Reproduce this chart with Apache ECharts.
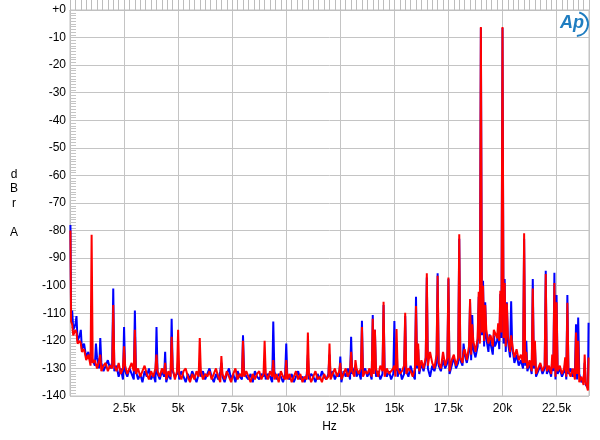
<!DOCTYPE html>
<html><head><meta charset="utf-8">
<script src="https://cdn.jsdelivr.net/npm/echarts@6/dist/echarts.min.js"></script>
<style>html,body{margin:0;padding:0;background:#fff}#c{width:600px;height:440px}</style>
</head><body><div id="c"></div>
<script>
// X tick labels (Hz)
const xTicks = [2500, 5000, 7500, 10000, 12500, 15000, 17500, 20000, 22500];
const xTickLabels = ['2.5k', '5k', '7.5k', '10k', '12.5k', '15k', '17.5k', '20k', '22.5k'];
// Y tick labels (dBr A)
const yTicks = [0, -10, -20, -30, -40, -50, -60, -70, -80, -90, -100, -110, -120, -130, -140];
const yTickLabels = ['+0', '-10', '-20', '-30', '-40', '-50', '-60', '-70', '-80', '-90', '-100', '-110', '-120', '-130', '-140'];

// Noise floor, read every 100 Hz (50, 150, ... 23950 Hz)
const blueFloor = [
  -110, -116, -114, -120, -118, -123, -121, -126, -124, -128,
  -127, -129, -126, -130, -128, -131, -129, -127, -130, -128,
  -131, -129, -133, -130, -134, -131, -133, -130, -132, -134,
  -131, -134, -132, -135, -131, -133, -130, -134, -132, -135,
  -132, -134, -131, -133, -135, -132, -134, -131, -133, -132,
  -134, -131, -133, -135, -132, -134, -131, -133, -135, -132,
  -133, -131, -134, -132, -130, -133, -135, -132, -134, -131,
  -133, -135, -132, -130, -134, -132, -135, -131, -133, -134,
  -131, -133, -134, -132, -135, -131, -133, -134, -132, -133,
  -134, -132, -133, -135, -131, -134, -132, -133, -135, -132,
  -133, -134, -132, -135, -133, -131, -134, -133, -135, -132,
  -134, -132, -133, -135, -132, -134, -131, -133, -134, -132,
  -133, -131, -134, -132, -133, -135, -131, -133, -130, -134,
  -132, -130, -133, -131, -134, -132, -130, -133, -131, -134,
  -130, -133, -131, -134, -132, -130, -133, -131, -134, -132,
  -131, -133, -130, -134, -132, -131, -133, -129, -132, -134,
  -130, -132, -128, -131, -127, -130, -133, -129, -131, -128,
  -129, -131, -127, -130, -128, -132, -129, -126, -130, -128,
  -127, -129, -125, -128, -124, -127, -123, -126, -122, -120,
  -118, -122, -119, -124, -121, -125, -122, -120, -123, -119,
  -121, -124, -120, -126, -123, -128, -125, -129, -127, -130,
  -129, -131, -128, -132, -130, -133, -131, -129, -132, -130,
  -132, -130, -133, -131, -134, -132, -130, -133, -131, -134,
  -132, -130, -133, -131, -134, -132, -135, -134, -136, -137
];
const redFloor = [
  -113, -118, -116, -121, -120, -124, -123, -127, -125, -129,
  -128, -127, -130, -127, -131, -129, -128, -131, -129, -130,
  -129, -131, -128, -132, -130, -129, -132, -130, -128, -131,
  -132, -130, -133, -131, -129, -132, -134, -131, -133, -130,
  -131, -133, -130, -132, -134, -131, -133, -130, -134, -131,
  -132, -134, -131, -130, -133, -135, -132, -134, -131, -133,
  -131, -134, -132, -133, -131, -134, -132, -130, -133, -135,
  -132, -134, -131, -133, -135, -132, -130, -134, -132, -133,
  -133, -131, -133, -135, -132, -134, -132, -131, -134, -132,
  -132, -134, -131, -133, -134, -132, -135, -131, -133, -134,
  -134, -132, -135, -133, -131, -134, -132, -135, -133, -134,
  -132, -135, -133, -131, -134, -133, -135, -132, -134, -133,
  -134, -132, -130, -133, -131, -134, -132, -130, -133, -131,
  -131, -133, -130, -132, -130, -133, -131, -132, -130, -133,
  -132, -130, -133, -129, -131, -133, -130, -132, -131, -130,
  -133, -130, -132, -131, -129, -132, -130, -131, -133, -130,
  -129, -131, -127, -130, -126, -129, -124, -128, -130, -125,
  -128, -130, -124, -129, -126, -131, -127, -125, -129, -126,
  -126, -128, -123, -127, -122, -125, -120, -124, -119, -121,
  -117, -120, -116, -121, -118, -122, -117, -119, -120, -117,
  -119, -122, -118, -124, -121, -126, -123, -127, -125, -128,
  -128, -130, -127, -131, -129, -132, -130, -128, -131, -129,
  -131, -129, -132, -130, -133, -131, -129, -132, -130, -133,
  -131, -133, -130, -134, -132, -135, -133, -136, -135, -138
];

// Spectral lines (tones, IMD products, spurs)
const spikeFreqs = [20, 100, 300, 500, 700, 1000, 1200, 1400, 2000, 2500, 3000, 4000, 4400, 4700, 5000, 6000, 7000, 8000, 9000, 9400, 10000, 11000, 12000, 12500, 13000, 13200, 13500, 14000, 14100, 14500, 15000, 15100, 15500, 16000, 16100, 16500, 17000, 17500, 18000, 18200, 18500, 18600, 18900, 19000, 19100, 19200, 19400, 19600, 19800, 19900, 20000, 20100, 20200, 20400, 20500, 21000, 21100, 21400, 21500, 22000, 22300, 22400, 22500, 22900, 23000, 23400, 23500, 23800, 23980];
const spikeBlue = [-78, -109, -111, -116, -121, -126, -121, -119, -101, -115, -109, -115, -124, -112, -127, -128, -128, -118, -127, -113, -121, -125, -125, -125.7, -118.5, -129, -112.7, -110.6, -116, -107, -112.8, -121, -111, -104, -123, -97, -95.5, -97.5, -83, -121, -106, -110.6, -104, -6.5, -98.2, -106, -117.6, -118, -116, -103, -6.5, -97.6, -106, -105.6, -125, -83, -120, -97.6, -122, -94.6, -127, -95.3, -103.4, -128, -103.4, -114, -111.5, -128, -113.4];
const spikeRed = [-80, -114, -117, -121, -125, -81.5, -127, -125, -107, -122, -116, -125, -128, -118.5, -116, -119, -125.5, -120, -120, -127, -127, -117, -121, -128, -124, -127, -115, -112, -116, -105.8, -129, -115.7, -109.8, -107.4, -121, -95.5, -96.4, -97, -81.3, -124, -104.8, -114, -102.2, -6.2, -100, -107, -119, -116, -113.6, -101.8, -6.2, -99, -106.5, -118, -124, -81, -124, -101, -120, -95.8, -125, -99, -106, -126, -106.2, -117, -120, -125, -126];

// Merge floor samples and line samples in frequency order
const pts = [];
for (let i = 0; i < blueFloor.length; i++) pts.push({f: 50 + 100 * i, b: blueFloor[i], r: redFloor[i]});
for (let j = 0; j < spikeFreqs.length; j++) pts.push({f: spikeFreqs[j], b: spikeBlue[j], r: spikeRed[j]});
pts.sort((a, b) => a.f - b.f);
const blueData = pts.map(p => [p.f, p.b]);
const redData = pts.map(p => [p.f, p.r]);

const FONT = '"Liberation Sans", Arial, sans-serif';
const chart = echarts.init(document.getElementById('c'), null, {renderer: 'canvas'});
chart.setOption({
  animation: false,
  backgroundColor: '#fff',
  grid: {left: 70, right: 11, top: 10, bottom: 44, show: true, borderColor: '#c0c0c0', borderWidth: 1},
  xAxis: [{
    type: 'value', min: 0, max: 24000, interval: 2500,
    axisLine: {show: true, lineStyle: {color: '#c0c0c0'}},
    axisTick: {show: false},
    splitLine: {show: true, lineStyle: {color: '#c4c4c4', width: 1}},
    axisLabel: {
      color: '#000', fontSize: 12, fontFamily: FONT, margin: 7,
      formatter: v => { const k = xTicks.indexOf(v); return k >= 0 ? xTickLabels[k] : ''; }
    },
    name: 'Hz', nameLocation: 'middle', nameGap: 25,
    nameTextStyle: {color: '#000', fontSize: 12, fontFamily: FONT}
  }, {
    type: 'value', min: 0, max: 24000, interval: 250, position: 'bottom',
    axisLine: {show: false}, axisLabel: {show: false}, splitLine: {show: false},
    axisTick: {show: true, inside: true, length: 12, lineStyle: {color: '#bdbdbd'}}
  }],
  yAxis: [{
    type: 'value', min: -140, max: 0, interval: 10,
    axisLine: {show: true, lineStyle: {color: '#c0c0c0'}},
    axisTick: {show: false},
    splitLine: {show: true, lineStyle: {color: '#c4c4c4', width: 1}},
    axisLabel: {
      color: '#000', fontSize: 12, fontFamily: FONT, margin: 4,
      formatter: v => { const k = yTicks.indexOf(v); return k >= 0 ? yTickLabels[k] : ''; }
    }
  }, {
    type: 'value', min: -140, max: 0, interval: 1, position: 'left',
    axisLine: {show: false}, axisLabel: {show: false}, splitLine: {show: false},
    axisTick: {show: true, inside: true, length: 6, lineStyle: {color: '#c4c4c4'}}
  }],
  graphic: [
    {type: 'text', x: 14, y: 167, style: {text: 'd\nB\nr\n\nA', font: '12px ' + FONT, fill: '#000', align: 'center', lineHeight: 14.5}},
    {type: 'arc', shape: {cx: 576, cy: 24, r: 12, startAngle: -1.3, endAngle: 1.5}, style: {stroke: '#1f7dc0', lineWidth: 2, fill: null}},
    {type: 'text', x: 560, y: 14, style: {text: 'Ap', font: 'italic bold 18px ' + FONT, fill: '#1f7dc0'}}
  ],
  series: [
    {type: 'line', name: 'Left', xAxisIndex: 0, yAxisIndex: 0, data: blueData, showSymbol: false, symbol: 'none',
     lineStyle: {color: '#0000ff', width: 2}, z: 2},
    {type: 'line', name: 'Right', xAxisIndex: 0, yAxisIndex: 0, data: redData, showSymbol: false, symbol: 'none',
     lineStyle: {color: '#ff0000', width: 2}, z: 3}
  ]
});
</script>
</body></html>
